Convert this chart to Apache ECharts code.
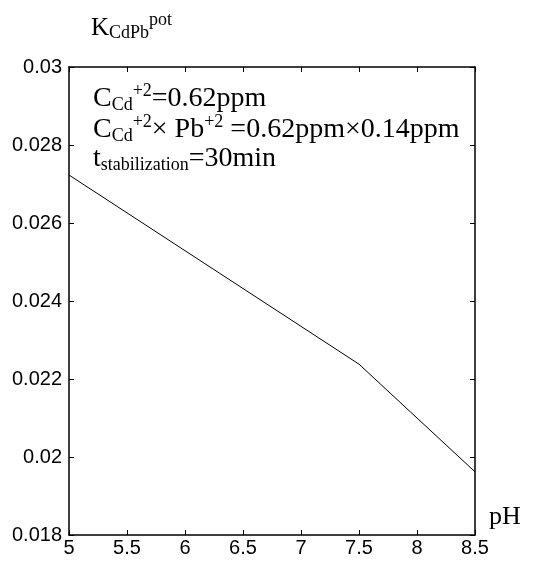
<!DOCTYPE html>
<html>
<head>
<meta charset="utf-8">
<script src="https://cdn.jsdelivr.net/npm/echarts@6/dist/echarts.min.js"></script>
<style>
html,body{margin:0;padding:0;background:#fff;}
#chart{width:542px;height:563px;}
</style>
</head>
<body>
<div id="chart"></div>
<script>
var phValues = [5, 7.5, 8.5];
var kValues = [0.02723, 0.02238, 0.01962];
var xTicks = [5, 5.5, 6, 6.5, 7, 7.5, 8, 8.5];
var yTicks = [0.018, 0.02, 0.022, 0.024, 0.026, 0.028, 0.03];

var chart = echarts.init(document.getElementById('chart'), null, {renderer: 'canvas'});
var serif = '"Liberation Serif", "Times New Roman", serif';
var sans = '"Liberation Sans", Arial, sans-serif';

function xAxisCfg(pos, showLabel) {
  return {
    type: 'value', position: pos, min: xTicks[0], max: xTicks[xTicks.length - 1], interval: 0.5,
    axisLine: {show: true, onZero: false, lineStyle: {color: '#000', width: 1.5}},
    axisTick: {show: true, inside: true, length: 5, lineStyle: {color: '#000', width: 1}},
    axisLabel: {show: showLabel, color: '#000', fontFamily: sans, fontSize: 20, margin: 3,
      formatter: function (v) { return String(+v.toFixed(2)); }},
    splitLine: {show: false}
  };
}
function yAxisCfg(pos, showLabel) {
  return {
    type: 'value', position: pos, min: yTicks[0], max: yTicks[yTicks.length - 1], interval: 0.002,
    axisLine: {show: true, onZero: false, lineStyle: {color: '#000', width: 1.5}},
    axisTick: {show: true, inside: true, length: 5, lineStyle: {color: '#000', width: 1}},
    axisLabel: {show: showLabel, color: '#000', fontFamily: sans, fontSize: 20, margin: 7,
      formatter: function (v) { return String(+v.toFixed(3)); }},
    splitLine: {show: false}
  };
}

var option = {
  backgroundColor: '#fff',
  animation: false,
  grid: {left: 69, right: 67, top: 67, bottom: 28, containLabel: false},
  xAxis: [xAxisCfg('bottom', true), xAxisCfg('top', false)],
  yAxis: [yAxisCfg('left', true), yAxisCfg('right', false)],
  series: [{
    type: 'line',
    xAxisIndex: 0, yAxisIndex: 0,
    data: phValues.map(function (p, i) { return [p, kValues[i]]; }),
    showSymbol: false,
    lineStyle: {color: '#000', width: 1},
    silent: true
  }],
  graphic: [
    {type: 'text', left: 91, top: 11, style: {
      text: '{b|K}{sub|CdPb}{sup|pot}',
      rich: {
        b: {fontFamily: serif, fontSize: 25, fill: '#000', lineHeight: 34},
        sub: {fontFamily: serif, fontSize: 18, fill: '#000', lineHeight: 34, padding: [10,0,0,0]},
        sup: {fontFamily: serif, fontSize: 18, fill: '#000', lineHeight: 34, padding: [0,0,16,0]}
      }
    }},
    {type: 'text', left: 489, top: 504, style: {
      text: 'pH', fontFamily: serif, fontSize: 26, fill: '#000'
    }}
  ]
};

var lines = [
  '{m|C}{s|Cd}{p|+2}{m|=0.62ppm}',
  '{m|C}{s|Cd}{p|+2}{m|× Pb}{p|+2}{m| =0.62ppm×0.14ppm}',
  '{m|t}{s|stabilization}{m|=30min}'
];
var rich = {
  m: {fontFamily: serif, fontSize: 28, fill: '#000', lineHeight: 34},
  s: {fontFamily: serif, fontSize: 18, fill: '#000', lineHeight: 34, padding: [12,0,0,0]},
  p: {fontFamily: serif, fontSize: 18, fill: '#000', lineHeight: 34, padding: [0,0,16,0]}
};
lines.forEach(function (t, i) {
  option.graphic.push({type: 'text', left: 93, top: 82 + i * 31, style: {text: t, rich: rich}});
});

chart.setOption(option);
</script>
</body>
</html>
